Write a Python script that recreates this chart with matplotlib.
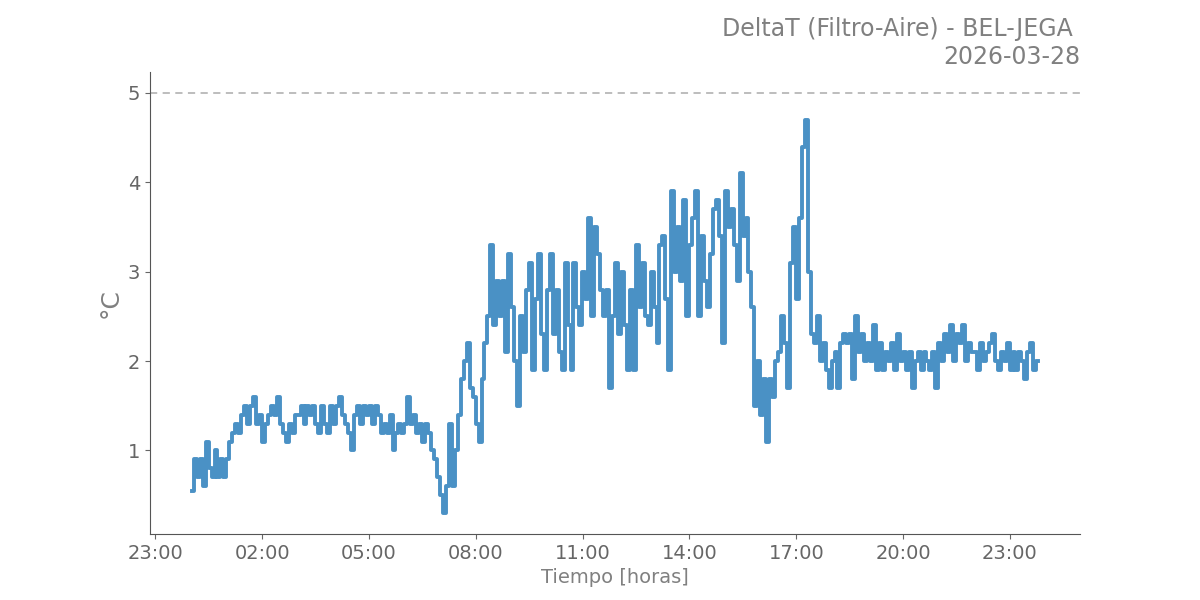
import numpy as np
import pandas as pd
import matplotlib
matplotlib.use("Agg")
import matplotlib.pyplot as plt
import matplotlib.dates as mdates

title_text = "DeltaT (Filtro-Aire) - BEL-JEGA \n2026-03-28"
x_label = "Tiempo [horas]"
y_label = "°C"
threshold = 5.0

start_time = "2026-03-28 00:02"
step = "5min"

h00 = [0.55, 0.9, 0.7, 0.9, 0.6, 1.1, 0.8, 0.7, 1.0, 0.7, 0.9, 0.7]
h01 = [0.9, 1.1, 1.2, 1.3, 1.2, 1.4, 1.5, 1.3, 1.5, 1.6, 1.3, 1.4]
h02 = [1.1, 1.3, 1.4, 1.5, 1.4, 1.6, 1.3, 1.2, 1.1, 1.3, 1.2, 1.4]
h03 = [1.4, 1.5, 1.3, 1.5, 1.4, 1.5, 1.3, 1.2, 1.5, 1.3, 1.2, 1.5]
h04 = [1.3, 1.5, 1.6, 1.4, 1.3, 1.2, 1.0, 1.4, 1.5, 1.3, 1.5, 1.4]
h05 = [1.5, 1.3, 1.5, 1.4, 1.2, 1.3, 1.2, 1.4, 1.0, 1.2, 1.3, 1.2]
h06 = [1.3, 1.6, 1.3, 1.4, 1.2, 1.3, 1.1, 1.3, 1.2, 1.0, 0.9, 0.7]
h07 = [0.5, 0.3, 0.6, 1.3, 0.6, 1.0, 1.4, 1.8, 2.0, 2.2, 1.7, 1.6]
h08 = [1.3, 1.1, 1.8, 2.2, 2.5, 3.3, 2.4, 2.9, 2.5, 2.9, 2.1, 3.2]
h09 = [2.6, 2.0, 1.5, 2.5, 2.1, 2.8, 3.1, 1.9, 2.7, 3.2, 2.3, 1.9]
h10 = [2.8, 3.2, 2.3, 2.8, 2.1, 1.9, 3.1, 2.4, 1.9, 3.1, 2.6, 2.4]
h11 = [3.0, 2.7, 3.6, 2.5, 3.5, 3.2, 2.8, 2.5, 2.8, 1.7, 2.5, 3.1]
h12 = [2.3, 3.0, 2.4, 1.9, 2.8, 1.9, 3.3, 2.6, 3.1, 2.5, 2.4, 3.0]
h13 = [2.6, 2.2, 3.3, 3.4, 2.7, 1.9, 3.9, 3.0, 3.5, 2.9, 3.8, 2.5]
h14 = [3.3, 3.6, 3.9, 2.5, 3.4, 2.9, 2.6, 3.2, 3.7, 3.8, 3.4, 2.2]
h15 = [3.9, 3.5, 3.7, 3.3, 2.9, 4.1, 3.4, 3.6, 3.0, 2.6, 1.5, 2.0]
h16 = [1.4, 1.8, 1.1, 1.8, 1.6, 2.0, 2.1, 2.5, 2.2, 1.7, 3.1, 3.5]
h17 = [2.7, 3.6, 4.4, 4.7, 3.0, 2.3, 2.2, 2.5, 2.0, 2.2, 1.9, 1.7]
h18 = [2.0, 2.1, 1.7, 2.2, 2.3, 2.2, 2.3, 1.8, 2.5, 2.1, 2.3, 2.0]
h19 = [2.2, 2.0, 2.4, 1.9, 2.2, 1.9, 2.1, 2.0, 2.2, 1.9, 2.3, 2.0]
h20 = [2.1, 1.9, 2.1, 1.7, 2.0, 2.1, 1.9, 2.1, 2.0, 1.9, 2.1, 1.7]
h21 = [2.2, 2.0, 2.3, 2.1, 2.4, 2.0, 2.3, 2.2, 2.4, 2.0, 2.2, 2.1]
h22 = [2.1, 1.9, 2.2, 2.0, 2.1, 2.2, 2.3, 2.0, 1.9, 2.1, 2.0, 2.2]
h23 = [1.9, 2.1, 1.9, 2.1, 2.0, 1.8, 2.1, 2.2, 1.9, 2.0]

values = (h00 + h01 + h02 + h03 + h04 + h05 + h06 + h07 + h08 + h09 + h10 + h11 +
          h12 + h13 + h14 + h15 + h16 + h17 + h18 + h19 + h20 + h21 + h22 + h23)
times = pd.date_range(start_time, periods=len(values), freq=step)

line_color = "#4a91c5"
text_gray = "#808080"
tick_gray = "#666666"

fig, ax = plt.subplots(figsize=(12, 6), dpi=100)
ax.plot(times, values, color=line_color, lw=2.8, drawstyle="steps-mid",
        solid_joinstyle="round")
ax.axhline(threshold, color="#b8b8b8", lw=1.3, ls=(0, (4, 3)))

ax.set_ylim(0.065, 5.235)
ax.set_yticks([1, 2, 3, 4, 5])
ax.xaxis.set_major_locator(mdates.HourLocator(byhour=[2, 5, 8, 11, 14, 17, 20, 23]))
ax.xaxis.set_major_formatter(mdates.DateFormatter("%H:%M"))

for s in ["top", "right"]:
    ax.spines[s].set_visible(False)
for s in ["left", "bottom"]:
    ax.spines[s].set_color("#555555")
    ax.spines[s].set_linewidth(0.8)

ax.tick_params(axis="both", labelsize=14, colors=tick_gray, length=3.5)
ax.set_xlabel(x_label, fontsize=14, color=text_gray)
ax.set_ylabel(y_label, fontsize=18, color=text_gray)
ax.set_title(title_text, loc="right", fontsize=17, color=text_gray)

fig.savefig("out.png", dpi=100)
